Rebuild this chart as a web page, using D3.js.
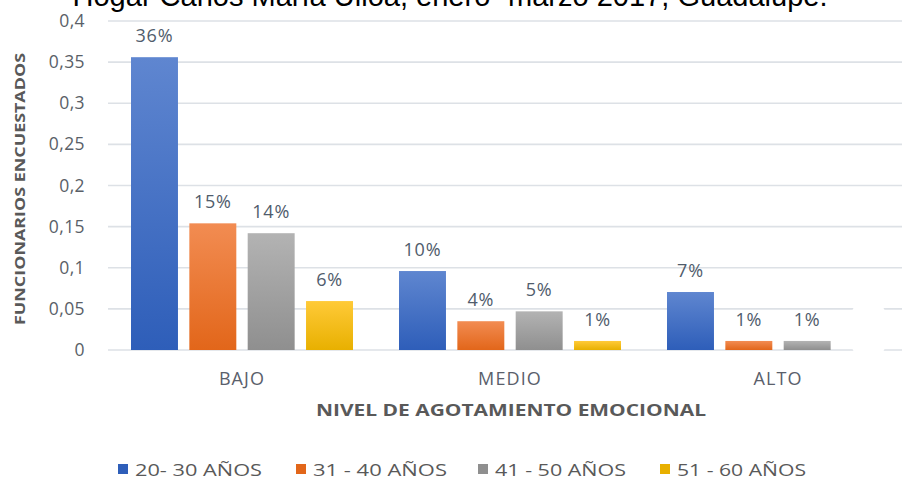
<!DOCTYPE html>
<html><head><meta charset="utf-8">
<script src="https://cdn.jsdelivr.net/npm/d3@7"></script>
<style>body{margin:0;background:#fff}svg{display:block}</style>
</head><body>
<svg id="c" width="902" height="481"></svg>
<script>
const categories = ["BAJO", "MEDIO", "ALTO"];
const seriesNames = ["20- 30 AÑOS", "31 - 40 AÑOS", "41 - 50 AÑOS", "51 - 60 AÑOS"];
const s2030 = [0.356, 0.096, 0.0705];
const s3140 = [0.154, 0.035, 0.011];
const s4150 = [0.142, 0.047, 0.011];
const s5160 = [0.0595, 0.011, 0];
const labels2030 = ["36%", "10%", "7%"];
const labels3140 = ["15%", "4%", "1%"];
const labels4150 = ["14%", "5%", "1%"];
const labels5160 = ["6%", "1%", ""];
const yTicks = [0, 0.05, 0.1, 0.15, 0.2, 0.25, 0.3, 0.35, 0.4];
const yTickLabels = ["0", "0,05", "0,1", "0,15", "0,2", "0,25", "0,3", "0,35", "0,4"];
const title = "Hogar Carlos María Ulloa, enero- marzo 2017, Guadalupe.";
const yTitle = "FUNCIONARIOS ENCUESTADOS";
const xTitle = "NIVEL DE AGOTAMIENTO EMOCIONAL";

const series = [s2030, s3140, s4150, s5160];
const seriesLabels = [labels2030, labels3140, labels4150, labels5160];
const colors = [["#5f86d0", "#2e5eb9"], ["#f28c52", "#e2661a"], ["#b3b3b3", "#8f8f8f"], ["#ffca38", "#e8b000"]];

const svg = d3.select("#c");
const defs = svg.append("defs");
colors.forEach((c, i) => {
  const g = defs.append("linearGradient").attr("id", "g" + i).attr("x1", 0).attr("y1", 0).attr("x2", 0).attr("y2", 1);
  g.append("stop").attr("offset", "0%").attr("stop-color", c[0]);
  g.append("stop").attr("offset", "100%").attr("stop-color", c[1]);
});

const y = d3.scaleLinear().domain([0, 0.4]).range([350, 21]);
const x0 = d3.scaleBand().domain(categories).range([108, 912]).paddingInner(0).paddingOuter(0);
const x1 = d3.scaleBand().domain(d3.range(4)).range([23, 245]).paddingInner(0.195).paddingOuter(0);

// title (cropped at top, as in the source image)
svg.append("text").attr("x", 450).attr("y", 6).attr("text-anchor", "middle")
  .attr("font-family", "Liberation Sans, Arial, sans-serif").attr("font-size", 29).attr("fill", "#000")
  .attr("textLength", 755).attr("lengthAdjust", "spacingAndGlyphs")
  .text(title);

// gridlines
svg.append("g").selectAll("line").data(yTicks).join("line")
  .attr("x1", 108).attr("x2", 902).attr("y1", d => y(d)).attr("y2", d => y(d))
  .attr("stroke", "#dde1e6").attr("stroke-width", 1.6);

// y tick labels
svg.append("g").selectAll("text").data(yTicks).join("text")
  .attr("x", 85).attr("y", d => y(d) + 6).attr("text-anchor", "end")
  .attr("font-family", "Open Sans, sans-serif").attr("font-size", 17.5).attr("letter-spacing", 0.4)
  .attr("fill", "#5a5f68")
  .text((d, i) => yTickLabels[i]);

// y title
svg.append("text").attr("transform", "translate(25,189) rotate(-90)").attr("text-anchor", "middle")
  .attr("font-family", "Open Sans, sans-serif").attr("font-weight", "bold").attr("font-size", 15)
  .attr("fill", "#595959").attr("textLength", 272).attr("lengthAdjust", "spacingAndGlyphs").text(yTitle);

// bars
const groups = svg.append("g").selectAll("g").data(categories).join("g")
  .attr("transform", d => `translate(${x0(d)},0)`);
groups.each(function(cat, ci) {
  const g = d3.select(this);
  series.forEach((s, si) => {
    const v = s[ci];
    const cx = x1(si) + x1.bandwidth() / 2;
    if (v > 0) {
      g.append("rect").attr("x", x1(si)).attr("width", x1.bandwidth())
        .attr("y", y(v)).attr("height", y(0) - y(v)).attr("fill", `url(#g${si})`);
    }
    const lab = seriesLabels[si][ci];
    if (lab) {
      g.append("text").attr("x", cx).attr("y", y(v) - 15)
        .attr("text-anchor", "middle").attr("font-family", "Open Sans, sans-serif")
        .attr("font-size", 18).attr("letter-spacing", 0.8).attr("fill", "#505c6c").text(lab);
    } else {
      // empty label box (white) as in the source
      g.append("rect").attr("x", cx - 13).attr("y", y(0.05) - 2).attr("width", 32)
        .attr("height", y(0) - y(0.05) + 4).attr("rx", 4).attr("fill", "#fff");
    }
  });
});

// category labels
svg.append("g").selectAll("text").data(categories).join("text")
  .attr("x", d => x0(d) + x0.bandwidth() / 2).attr("y", 385).attr("text-anchor", "middle")
  .attr("font-family", "Open Sans, sans-serif").attr("font-size", 18).attr("letter-spacing", 1.1)
  .attr("fill", "#5a606b")
  .text(d => d);

// x title
svg.append("text").attr("x", 511).attr("y", 416).attr("text-anchor", "middle")
  .attr("font-family", "Open Sans, sans-serif").attr("font-weight", "bold").attr("font-size", 15.5)
  .attr("fill", "#595959").attr("textLength", 390).attr("lengthAdjust", "spacingAndGlyphs").text(xTitle);

// legend
const legX = [118, 296, 478, 660];
const legW = [127, 134, 131, 129];
const leg = svg.append("g").selectAll("g").data(seriesNames).join("g")
  .attr("transform", (d, i) => `translate(${legX[i]},0)`);
leg.append("rect").attr("x", 0).attr("y", 464).attr("width", 10).attr("height", 10)
  .attr("fill", (d, i) => colors[i][1]);
leg.append("text").attr("x", 17).attr("y", 476)
  .attr("font-family", "Open Sans, sans-serif").attr("font-size", 17).attr("fill", "#595959")
  .attr("textLength", (d, i) => legW[i]).attr("lengthAdjust", "spacingAndGlyphs").text(d => d);
</script>
</body></html>
